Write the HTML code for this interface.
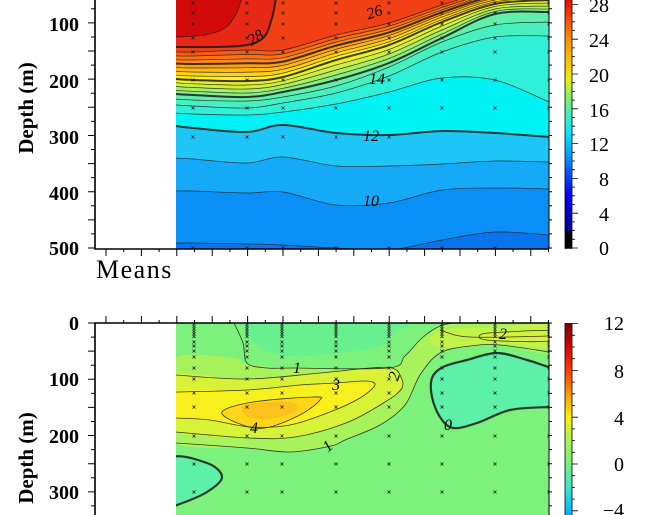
<!DOCTYPE html>
<html><head><meta charset="utf-8"><style>
html,body{margin:0;padding:0;background:#fff;}
svg{display:block;}
</style></head><body>
<svg id="s" width="660" height="515" viewBox="0 0 660 515" xmlns="http://www.w3.org/2000/svg">
<defs>
<clipPath id="c1"><rect x="176" y="0" width="373" height="248.5"/></clipPath>
<clipPath id="c2"><rect x="176" y="323" width="373" height="192"/></clipPath>
<linearGradient id="g1" x1="0" y1="248" x2="0" y2="-32" gradientUnits="userSpaceOnUse">
<stop offset="0" stop-color="#000"/><stop offset="0.06" stop-color="#000"/>
<stop offset="0.063" stop-color="#00008c"/><stop offset="0.19" stop-color="#0000ff"/>
<stop offset="0.28" stop-color="#0064ff"/><stop offset="0.34" stop-color="#00a8ff"/>
<stop offset="0.41" stop-color="#00e6ff"/><stop offset="0.47" stop-color="#3cf0c8"/>
<stop offset="0.53" stop-color="#78f06e"/><stop offset="0.6" stop-color="#e6f014"/>
<stop offset="0.66" stop-color="#ffc800"/><stop offset="0.75" stop-color="#ff8c00"/>
<stop offset="0.81" stop-color="#ff5000"/><stop offset="0.875" stop-color="#eb1400"/>
<stop offset="1" stop-color="#b40000"/>
</linearGradient>
<linearGradient id="g2" x1="0" y1="323" x2="0" y2="557" gradientUnits="userSpaceOnUse">
<stop offset="0" stop-color="#780000"/><stop offset="0.1" stop-color="#dc0000"/>
<stop offset="0.2" stop-color="#ff3c00"/><stop offset="0.3" stop-color="#ff9600"/>
<stop offset="0.4" stop-color="#fff000"/><stop offset="0.5" stop-color="#aaf550"/>
<stop offset="0.6" stop-color="#78f07d"/><stop offset="0.7" stop-color="#3ce6c8"/>
<stop offset="0.8" stop-color="#00beff"/><stop offset="1" stop-color="#003cff"/>
</linearGradient>
</defs>
<g id="top" clip-path="url(#c1)"></g>
<g id="bot" clip-path="url(#c2)"></g>
<g id="axes" stroke="#000" fill="none"></g>
<g id="txt" font-family="'Liberation Serif',serif" fill="#000"></g>
</svg>
<script>
const NS="http://www.w3.org/2000/svg";
function el(p,tag,a,t){const e=document.createElementNS(NS,tag);for(const k in a)e.setAttribute(k,a[k]);if(t!==undefined)e.textContent=t;document.getElementById(p).appendChild(e);return e;}
function cr(pts,closed){
  let n=pts.length,d="M"+pts[0][0]+","+pts[0][1];
  const g=i=>closed?pts[(i+n)%n]:pts[Math.max(0,Math.min(n-1,i))];
  const m=closed?n:n-1;
  for(let i=0;i<m;i++){const p0=g(i-1),p1=g(i),p2=g(i+1),p3=g(i+2);
    const c1=[p1[0]+(p2[0]-p0[0])/6,p1[1]+(p2[1]-p0[1])/6],c2=[p2[0]-(p3[0]-p1[0])/6,p2[1]-(p3[1]-p1[1])/6];
    d+=" C"+c1[0].toFixed(1)+","+c1[1].toFixed(1)+" "+c2[0].toFixed(1)+","+c2[1].toFixed(1)+" "+p2[0].toFixed(1)+","+p2[1].toFixed(1);}
  return closed?d+"Z":d;}
// ---------- TOP PANEL ----------
const xs=[176,193,247,283,336,389,442,495,549];
const C={};
C[9]=[243,243,244,245,248,250,240,232,235];
C[10]=[191,191,193,192,205,203,190,188,189];
C[11]=[158,159,163,157,166,166,164,161,162];
C[12]=[126,128,132,125,133,135,131,133,137];
C[13]=[113,114,115,112,104,92,78,80,102];
C[14]=[105,106,108,103,93,76,52,37,36];
C[15]=[99,100,101,97,86,67,42,25,22];
C[16]=[94,95,97,92,80,63,38,14,12];
C[20]=[79,80,81,77,60,45,22,4,0];
C[27]=[52,52,50,50,35,23,5,-10,-15];
for(let k=17;k<20;k++)C[k]=C[16].map((v,i)=>v+(C[20][i]-v)*(k-16)/4);
for(let k=21;k<27;k++)C[k]=C[20].map((v,i)=>v+(C[27][i]-v)*(k-20)/7);
const col={8:"#0a73ee",9:"#0a8ff7",10:"#14aaf8",11:"#1ec6f8",12:"#00f2f5",13:"#30f0d8",14:"#48f0c0",15:"#60f0aa",
16:"#80f088",17:"#a8f060",18:"#cdf040",19:"#eaf028",20:"#fff014",21:"#ffd214",22:"#ffb814",23:"#ffa014",
24:"#ff8a14",25:"#ff7014",26:"#f85a14",27:"#f04014",28:"#e62814",29:"#d20a0a"};
el("top","rect",{x:176,y:0,width:373,height:249,fill:col[8]});
function above(k,fill){const pts=xs.map((x,i)=>[x,C[k][i]]);
  let d=cr(pts,false)+" L549,-40 L176,-40 Z";el("top","path",{d:d,fill:fill});}
for(let k=9;k<=27;k++)above(k,col[k]);
el("top","path",{d:cr([[176,47],[215,47],[247,45],[264,37],[272,18],[276,-2]],false)+" L176,-2Z",fill:col[28]});
el("top","path",{d:cr([[176,37],[205,35],[225,28],[236,14],[242,-2]],false)+" L176,-2Z",fill:col[29]});
function line(g,pts,w,closed){el(g,"path",{d:cr(pts,closed),fill:"none",stroke:"#1a1a1a","stroke-width":w,"stroke-opacity":0.85});}
for(let k=9;k<=27;k++){const w=(k%4==0)?2:0.7;line("top",xs.map((x,i)=>[x,C[k][i]]),w);}
line("top",[[176,47],[215,47],[247,45],[264,37],[272,18],[276,-2]],2);
line("top",[[176,37],[205,35],[225,28],[236,14],[242,-2]],0.7);
function X(g,x,y){el(g,"path",{d:`M${x-1.5},${y-1.5}L${x+1.5},${y+1.5}M${x-1.5},${y+1.5}L${x+1.5},${y-1.5}`,stroke:"#222","stroke-width":0.8});}
const rows=[3,13,24,38,52,80,108,137,248];
xs.slice(1).forEach(x=>rows.forEach(y=>{if(y>=108&&x>400&&y>108&&y<248)return;X("top",x,y);}));
// ---------- BOTTOM PANEL ----------
el("bot","rect",{x:176,y:323,width:373,height:192,fill:"#7cf27c"});
const B=(pts,fill)=>el("bot","path",{d:cr(pts,true),fill:fill});
B([[255,321],[257,345],[290,356],[340,353],[380,346],[395,332],[402,321]],"#68f08e");
B([[176,358],[233,358],[247,364],[293,368],[388,368],[405,356],[422,338],[440,326],[460,321],[549,321],[549,352],[500,345],[470,346],[440,353],[420,375],[405,405],[380,425],[345,440],[331,446],[290,452],[247,448],[176,443],[170,400]],"#a8f25c");
B([[430,341],[445,330],[500,327],[549,325],[549,347],[500,344],[450,348]],"#c4f248");
B([[482,334],[487,340],[549,341],[549,331],[507,332]],"#d4f23c");
B([[170,375],[247,379],[320,373],[370,368],[392,368],[400,375],[402,388],[385,402],[346,423],[295,437],[249,438],[176,432],[168,405]],"#d8f238");
B([[170,392],[247,390],[300,385],[336,383],[365,381],[375,385],[360,398],[330,412],[290,425],[250,427],[210,420],[170,418]],"#f8f01c");
B([[222,412],[253,402],[313,397],[320,400],[300,415],[265,428],[240,424]],"#ffd61a");
B([[245,405],[290,402],[296,411],[270,419],[248,417]],"#ffc21a");
const z1=[[432,378],[443,367],[467,360],[497,353],[527,360],[549,367],[560,368],[560,407],[549,407],[510,410],[477,423],[453,428],[440,417],[432,397]];
const z2=[[170,459],[207,463],[222,477],[207,492],[177,505],[170,505]];
B(z1,"#5cf0a8");B(z2,"#5cf0a8");
line("bot",z1,2.2,true);line("bot",z2,2.2,true);
const bl=(p)=>line("bot",p,0.8,false);
bl([[233,321],[243,343],[247,363],[267,368],[293,368],[388,368],[405,356],[422,338],[440,326],[460,322]]);
bl([[176,443],[247,448],[290,452],[331,446],[345,440],[380,425],[405,405],[420,375],[440,353],[470,346],[500,345],[549,352]]);
bl([[176,375],[247,379],[320,373],[370,368],[392,368],[400,375],[402,388],[385,402],[346,423],[295,437],[249,438],[176,432]]);
bl([[176,392],[247,390],[300,385],[336,383],[365,381],[375,385],[360,398],[330,412],[290,425],[250,427],[210,420],[176,418]]);
line("bot",[[222,412],[253,402],[313,397],[320,400],[300,415],[265,428],[240,424]],0.8,true);
line("bot",[[482,334],[487,340],[549,341],[549,331],[507,332]],0.8,true);
bl([[440,330],[470,337],[549,336]]);
const bx=[194,247,282,336,389,442,495,549];
bx.forEach(x=>{for(let y=324;y<=338;y+=2.5)X("bot",x,y);
 [342,346,351,357,368,379,393,407,436,464,492].forEach(y=>X("bot",x,y));});
// ---------- AXES ----------
const A=(d,w)=>el("axes","path",{d:d,"stroke-width":w||1.3});
A("M95,0V249H549",1.6);A("M549,0V249",1);
A("M95,515V323H549",1.6);A("M549,323V515",1);
let d="";
for(let k=0;k<20;k++){const y=248-k*14.07;d+=`M95,${y}h${k%2?-4:-7}M549,${y}h3`;}
for(let k=0;k<14;k++){const y=323+k*14.07;d+=`M95,${y}h${k%2?-4:-7}M549,${y}h3`;}
for(let k=0;k<=25;k++){const x=106+k*17.7;d+=`M${x},249v${k%2?3:7}M${x},323v${k%2?-3:-7}`;}
A(d,1);
el("axes","rect",{x:565,y:-5,width:7,height:253,fill:"url(#g1)",stroke:"none"});
el("axes","rect",{x:565,y:323,width:7,height:200,fill:"url(#g2)",stroke:"none"});
A("M565,-5V248.5H572V-5M565,323V515M572,323V515",0.8);
d="";for(let v=0;v<=29;v++){const y=248-v*8.7;d+=`M572,${y}h${v%4?3:6}`;}
for(let v=-6;v<=12;v++){const y=464-v*11.7;d+=`M572,${y}h${v%4?3:6}`;}
A(d,0.8);
// ---------- TEXT ----------
const T=(x,y,s,a,extra)=>{const e=el("txt","text",Object.assign({x:x,y:y,"font-size":a.fs||20,"text-anchor":a.anchor||"end","font-weight":a.fw||"bold"},extra||{}),s);return e;};
[[100,24],[200,81],[300,137],[400,193],[500,248]].forEach(p=>T(79,p[1]+7,p[0],{}));
[[0,323],[100,379],[200,436],[300,492]].forEach(p=>T(79,p[1]+7,p[0],{}));
T(0,0,"Depth (m)",{anchor:"middle",fs:21},{transform:"translate(33,108) rotate(-90)"});
T(0,0,"Depth (m)",{anchor:"middle",fs:21},{transform:"translate(33,458) rotate(-90)"});
T(96,278,"Means",{anchor:"start",fs:26,fw:"normal"},{"letter-spacing":"1.5"});
[[28,5],[24,40],[20,75],[16,110],[12,144],[8,179],[4,214],[0,248]].forEach(p=>T(609,p[1]+7,p[0],{fw:"normal",fs:20}));
[["12",323],["8",371],["4",418],["0",464],["\u22124",510]].forEach(p=>T(624,p[1]+7,p[0],{fw:"normal",fs:20}));
const L=(x,y,s,r)=>T(0,0,s,{anchor:"middle",fs:16,fw:"normal"},{transform:`translate(${x},${y}) rotate(${r||0})`,"font-style":"italic"});
L(258,42,"28",-30);L(376,17,"26",-18);L(377,84,"14");L(371,141,"12");L(371,206,"10");
L(297,373,"1");L(336,390,"3");L(254,433,"4");L(331,450,"1",-40);L(399,378,"2",-70);L(448,430,"0");L(503,339,"2");
</script>
</body></html>
